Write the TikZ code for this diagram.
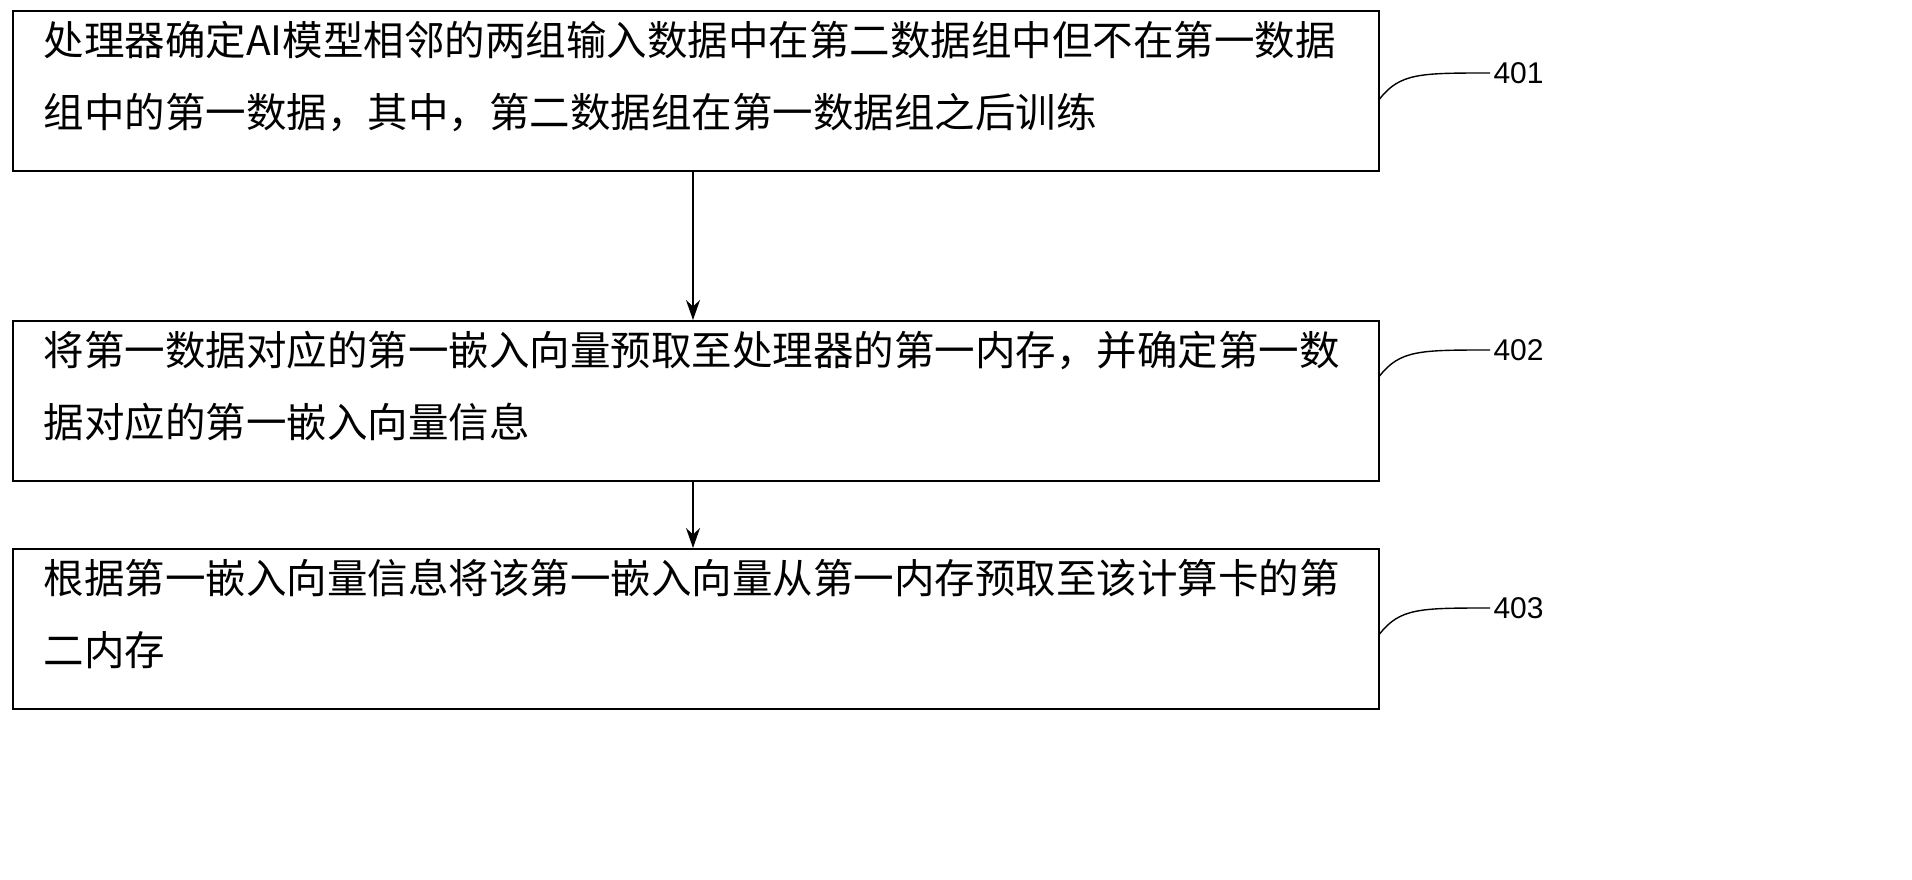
\documentclass[tikz,border=0pt]{standalone}
\usetikzlibrary{arrows.meta}
\usepackage{fontspec}
\setmainfont{Liberation Sans}
\newfontfamily\cjk{Noto Sans CJK SC}
\begin{document}
\begin{tikzpicture}[x=1pt,y=-1pt,
  stepbox/.style={draw,line width=1.6pt,minimum width=1366pt,minimum height=160pt,anchor=north west,inner sep=0pt},
  txt/.style={anchor=north west,align=left,font=\cjk\fontsize{40.5}{72}\selectfont},
  lab/.style={font=\fontsize{30}{36}\selectfont,anchor=west},
  arr/.style={-{Stealth[length=20pt,width=14pt]},line width=1.6pt},
  lead/.style={line width=1.4pt}]
\useasboundingbox (0,0) rectangle (1912,880);
\node[stepbox] (b1) at (12,10) {};
\node[stepbox] (b2) at (12,320) {};
\node[stepbox] (b3) at (12,548) {};
\node[txt] (t1) at (40,18) {处理器确定AI模型相邻的两组输入数据中在第二数据组中但不在第一数据\\组中的第一数据，其中，第二数据组在第一数据组之后训练};
\node[txt] (t2) at (40,328) {将第一数据对应的第一嵌入向量预取至处理器的第一内存，并确定第一数\\据对应的第一嵌入向量信息};
\node[txt] (t3) at (40,556) {根据第一嵌入向量信息将该第一嵌入向量从第一内存预取至该计算卡的第\\二内存};
\draw[arr] (b1.south -| 693,0) -- (b2.north -| 693,0);
\draw[arr] (b2.south -| 693,0) -- (b3.north -| 693,0);
\foreach \b/\n/\y in {b1/401/73,b2/402/350,b3/403/608}{
  \node[lab] (l\n) at (1490,\y) {\n};
  \draw[lead] (\b.east |- 0,\y+26) .. controls (1400,\y) and (1420,\y) .. (l\n.west);
}
\end{tikzpicture}
\end{document}
